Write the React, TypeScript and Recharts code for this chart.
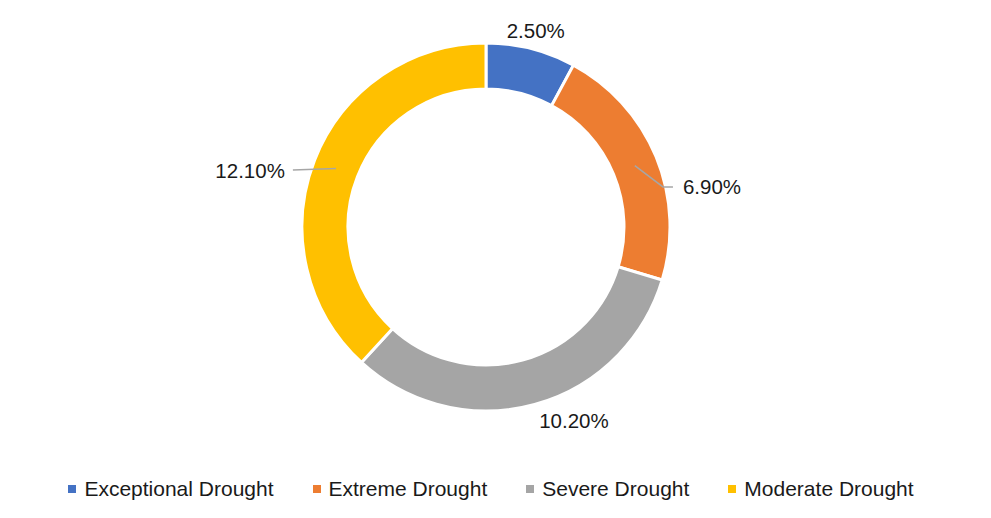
import React from "react";
import { PieChart, Pie, Cell } from "recharts";

const categories: string[] = [
  "Exceptional Drought",
  "Extreme Drought",
  "Severe Drought",
  "Moderate Drought",
];
const shares: number[] = [2.5, 6.9, 10.2, 12.1];
const labels: string[] = ["2.50%", "6.90%", "10.20%", "12.10%"];

const COLORS = ["#4472C4", "#ED7D31", "#A5A5A5", "#FFC000"];
const FONT = "'Liberation Sans', Arial, sans-serif";
const RADIAN = Math.PI / 180;

const data = categories.map((name, i) => ({ name, value: shares[i], label: labels[i] }));

// where Excel's best-fit put each label: angle override (deg) and radius, plus leader line
const PLACE = [
  { angle: null as number | null, r: 203, anchor: "middle", leader: false },
  { angle: 11.5, r: 201, anchor: "start", leader: true },
  { angle: -65.6, r: 213, anchor: "middle", leader: false },
  { angle: 164.2, r: 209, anchor: "end", leader: true },
];

const polar = (cx: number, cy: number, r: number, a: number) => ({
  x: cx + r * Math.cos(-a * RADIAN),
  y: cy + r * Math.sin(-a * RADIAN),
});

const renderLabel = (props: any) => {
  const { cx, cy, midAngle, innerRadius, outerRadius, index } = props;
  const p = PLACE[index];
  const a = p.angle === null ? midAngle : p.angle;
  const pos = polar(cx, cy, p.r, a);
  let line = null;
  if (p.leader) {
    const start = polar(cx, cy, (innerRadius + outerRadius) / 2, midAngle);
    if (p.anchor === "start") {
      const end = { x: pos.x - 10, y: pos.y };
      const elbow = { x: pos.x - 20, y: pos.y };
      line = (
        <polyline
          points={`${start.x},${start.y} ${elbow.x},${elbow.y} ${end.x},${end.y}`}
          fill="none"
          stroke="#A6A6A6"
          strokeWidth={1.5}
        />
      );
    } else {
      const end = { x: pos.x + 8, y: pos.y };
      line = (
        <polyline
          points={`${start.x},${start.y} ${end.x},${end.y}`}
          fill="none"
          stroke="#A6A6A6"
          strokeWidth={1.5}
        />
      );
    }
  }
  return (
    <g key={`lbl-${index}`}>
      {line}
      <text
        x={pos.x}
        y={pos.y}
        textAnchor={p.anchor}
        dominantBaseline="central"
        fill="#1a1a1a"
        fontSize={20.5}
        fontFamily={FONT}
      >
        {labels[index]}
      </text>
    </g>
  );
};

const App: React.FC = () => {
  return (
    <div style={{ position: "absolute", left: 0, top: 0, width: 991, height: 518, background: "#fff" }}>
      <PieChart width={991} height={518} margin={{ top: 0, right: 0, bottom: 0, left: 0 }}>
        <Pie
          data={data}
          dataKey="value"
          nameKey="name"
          cx={486}
          cy={227}
          outerRadius={184}
          innerRadius={138}
          startAngle={90}
          endAngle={-270}
          stroke="#ffffff"
          strokeWidth={3}
          label={renderLabel}
          labelLine={false}
          isAnimationActive={false}
        >
          {data.map((_, index) => (
            <Cell key={`cell-${index}`} fill={COLORS[index % COLORS.length]} />
          ))}
        </Pie>
      </PieChart>
      <div
        style={{
          position: "absolute",
          left: 0,
          top: 477,
          width: 982,
          display: "flex",
          justifyContent: "center",
          gap: 39,
          fontFamily: FONT,
          fontSize: 21,
          color: "#1a1a1a",
          lineHeight: "24px",
        }}
      >
        {categories.map((c, i) => (
          <div key={c} style={{ display: "flex", alignItems: "center" }}>
            <span style={{ width: 8, height: 8, background: COLORS[i], marginRight: 8, display: "inline-block" }} />
            <span>{c}</span>
          </div>
        ))}
      </div>
    </div>
  );
};

export default App;
